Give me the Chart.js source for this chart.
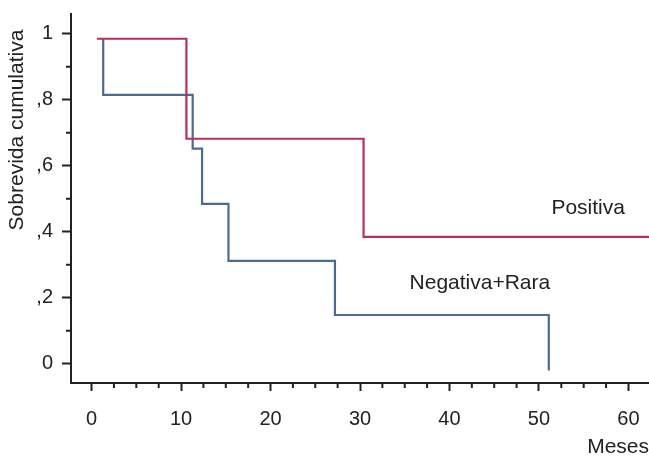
<!DOCTYPE html>
<html>
<head>
<meta charset="utf-8">
<script src="https://cdn.jsdelivr.net/npm/chart.js@4"></script>
<style>
  html, body { margin: 0; padding: 0; background: #fff; }
  #wrap { width: 649px; height: 460px; }
</style>
</head>
<body>
<div id="wrap"><canvas id="survChart"></canvas></div>
<script>
// Kaplan-Meier corners (months, cumulative survival)
const positivaMonths = [0.6, 10.6, 30.4, 63];
const positivaSurv = [0.985, 0.682, 0.385, 0.385];
const negativaMonths = [1.3, 1.3, 11.3, 12.35, 15.3, 27.2, 51.1];
const negativaSurv = [0.985, 0.815, 0.652, 0.485, 0.312, 0.148, -0.02];

const xTicks = [0, 10, 20, 30, 40, 50, 60];
const yTicks = [0, 0.2, 0.4, 0.6, 0.8, 1];
const yTickLabels = ['0', ',2', ',4', ',6', ',8', '1'];
const xMinor = [2.5, 5, 7.5, 12.5, 15, 17.5, 22.5, 25, 27.5, 32.5, 35, 37.5, 42.5, 45, 47.5, 52.5, 55, 57.5, 62.5];
const yMinor = [0.1, 0.3, 0.5, 0.7, 0.9];

const FONT = "'Liberation Sans', Arial, Helvetica, sans-serif";
const INK = '#222';

const toPoints = (xs, ys) => xs.map((x, i) => ({ x: x, y: ys[i] }));

// minor ticks, y title and curve labels
const extras = {
    id: 'extras',
    afterDraw(chart) {
        const ctx = chart.ctx;
        const xs = chart.scales.x, ys = chart.scales.y;
        const area = chart.chartArea;
        ctx.save();
        ctx.strokeStyle = INK;
        ctx.lineWidth = 2;
        ctx.beginPath();
        xMinor.forEach(v => {
            const px = xs.getPixelForValue(v);
            if (px > area.right) return;
            ctx.moveTo(px, area.bottom);
            ctx.lineTo(px, area.bottom + 5);
        });
        yMinor.forEach(v => {
            const py = ys.getPixelForValue(v);
            ctx.moveTo(area.left - 5, py);
            ctx.lineTo(area.left, py);
        });
        ctx.stroke();

        ctx.fillStyle = INK;
        ctx.font = '21px ' + FONT;
        ctx.textAlign = 'center';
        ctx.textBaseline = 'middle';
        ctx.fillText('Positiva', xs.getPixelForValue(55.5), ys.getPixelForValue(0.473));
        ctx.fillText('Negativa+Rara', xs.getPixelForValue(43.4), ys.getPixelForValue(0.245));

        ctx.translate(17, 130);
        ctx.rotate(-Math.PI / 2);
        ctx.fillText('Sobrevida cumulativa', 0, 0);
        ctx.restore();
    }
};

new Chart(document.getElementById('survChart').getContext('2d'), {
    type: 'line',
    data: {
        datasets: [
            {
                label: 'Positiva',
                data: toPoints(positivaMonths, positivaSurv),
                borderColor: '#b8305a',
                borderWidth: 2.2,
                stepped: 'before',
                pointRadius: 0,
                fill: false,
            },
            {
                label: 'Negativa+Rara',
                data: toPoints(negativaMonths, negativaSurv),
                borderColor: '#4d6a93',
                borderWidth: 2.2,
                stepped: 'before',
                pointRadius: 0,
                fill: false,
            },
        ],
    },
    options: {
        responsive: true,
        maintainAspectRatio: false,
        animation: false,
        layout: { padding: { top: 14, right: 0, left: 0, bottom: 0 } },
        plugins: {
            legend: { display: false },
            tooltip: { enabled: false },
        },
        scales: {
            x: {
                type: 'linear',
                min: -2.3,
                max: 62.3,
                afterBuildTicks: s => { s.ticks = xTicks.map(v => ({ value: v })); },
                afterFit: s => { s.height = 77; s.paddingLeft = 0; s.paddingRight = 0; },
                border: { display: true, color: INK, width: 2 },
                grid: { drawOnChartArea: false, tickLength: 8, tickWidth: 2, tickColor: INK },
                ticks: { color: INK, font: { family: FONT, size: 20 }, padding: 16, maxRotation: 0 },
                title: {
                    display: true,
                    text: 'Meses',
                    align: 'end',
                    color: INK,
                    font: { family: FONT, size: 21 },
                    padding: { top: 6, bottom: 0 },
                },
            },
            y: {
                type: 'linear',
                min: -0.058,
                max: 1.06,
                afterBuildTicks: s => { s.ticks = yTicks.map(v => ({ value: v })); },
                afterFit: s => { s.width = 71; s.paddingTop = 0; s.paddingBottom = 0; },
                border: { display: true, color: INK, width: 2 },
                grid: { drawOnChartArea: false, tickLength: 9, tickWidth: 2, tickColor: INK },
                ticks: {
                    color: INK,
                    font: { family: FONT, size: 20 },
                    padding: 9,
                    callback: v => yTickLabels[yTicks.indexOf(v)],
                },
            },
        },
    },
    plugins: [extras],
});
</script>
</body>
</html>
